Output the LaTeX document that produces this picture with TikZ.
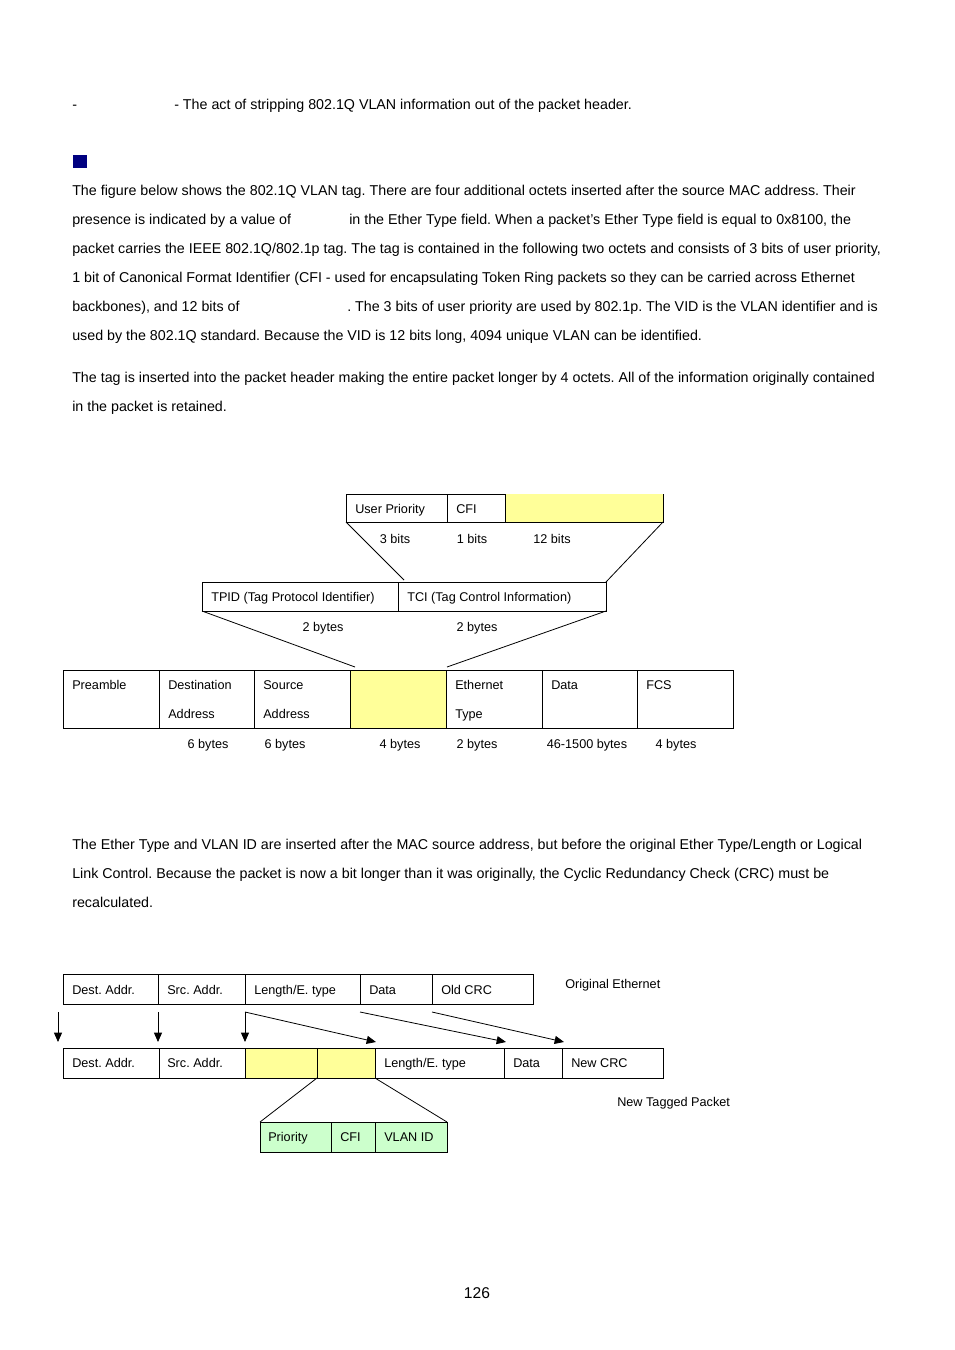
\documentclass[tikz,border=0pt]{standalone}
\usepackage{fontspec}
\setmainfont{Liberation Sans}
\usetikzlibrary{arrows.meta}
\frenchspacing
\definecolor{tagyellow}{RGB}{255,255,153}
\definecolor{taggreen}{RGB}{204,255,204}
\definecolor{navybox}{RGB}{0,0,128}
\newcommand\bodyfont{\fontsize{10.7}{12.8}\selectfont}
\newcommand\diagfont{\fontsize{9.5}{11.4}\selectfont}
\newcommand\cellbox[6]{\node[cell,fill=#6,minimum width={(#4-#2)*0.75pt},minimum height={(#5-#3)*0.75pt}] (#1) at ({(#2+#4)/2},{(#3+#5)/2}) {};}
\newcommand\dtext[4]{\node[dtxt] (#1) at (#2,{#3+5.5}) {#4};}
\newcommand\btext[4]{\node[btxt] (#1) at (#2,{#3+5.6}) {#4};}
\newcommand\ctext[4]{\node[ctxt] (#1) at (#2,{#3+5.5}) {#4};}
\tikzset{
  cell/.style={draw=black,line width=0.6pt,inner sep=0pt,outer sep=0pt},
  dtxt/.style={anchor=base west,inner sep=0pt,font=\diagfont},
  ctxt/.style={anchor=base,inner sep=0pt,font=\diagfont},
  btxt/.style={anchor=base west,inner sep=0pt,font=\bodyfont},
  conn/.style={line width=0.6pt},
  arr/.style={line width=0.6pt,-{Triangle[length=7pt,width=6pt]}}
}
\begin{document}
\begin{tikzpicture}[x=0.75pt,y=-0.75pt]
\path[use as bounding box] (0,0) rectangle (954,1350);
% header
\btext{dash}{72}{104}{-}
\btext{strip}{174}{104}{- The act of stripping 802.1Q VLAN information out of the packet header.}
\node[fill=navybox,inner sep=0pt,minimum width=10.5pt,minimum height=9.75pt,anchor=north west] (sq) at (73,155) {};
% paragraph 1
\btext{p1}{72}{190}{The figure below shows the 802.1Q VLAN tag. There are four additional octets inserted after the source MAC address. Their}
\btext{p2a}{72}{219}{presence is indicated by a value of}
\btext{p2b}{349}{219}{in the Ether Type field. When a packet's Ether Type field is equal to 0x8100, the}
\btext{p3}{72}{248}{packet carries the IEEE 802.1Q/802.1p tag. The tag is contained in the following two octets and consists of 3 bits of user priority,}
\btext{p4}{72}{277}{1 bit of Canonical Format Identifier (CFI - used for encapsulating Token Ring packets so they can be carried across Ethernet}
\btext{p5a}{72}{306}{backbones), and 12 bits of}
\btext{p5b}{347}{306}{. The 3 bits of user priority are used by 802.1p. The VID is the VLAN identifier and is}
\btext{p6}{72}{335}{used by the 802.1Q standard. Because the VID is 12 bits long, 4094 unique VLAN can be identified.}
\btext{q1}{72}{377}{The tag is inserted into the packet header making the entire packet longer by 4 octets. All of the information originally contained}
\btext{q2}{72}{406}{in the packet is retained.}
% diagram 1 top
\fill[tagyellow] (505,494) rectangle (663,522);
\cellbox{up}{346}{494}{447}{522}{white}
\cellbox{cfi}{447}{494}{505}{522}{white}
\coordinate (vidtr) at (663,494);
\coordinate (vidbr) at (663,522);
\draw[conn] (cfi.south east) -- (vidbr) -- (vidtr);
\dtext{tup}{355}{508}{User Priority}
\dtext{tcfi}{456}{508}{CFI}
\ctext{b3}{395}{538}{3 bits}
\ctext{b1}{472}{538}{1 bits}
\ctext{b12}{552}{538}{12 bits}
% diagram 1 middle
\cellbox{tpid}{202}{582}{398}{611}{white}
\cellbox{tci}{398}{582}{606}{611}{white}
\dtext{ttpid}{211}{596}{TPID (Tag Protocol Identifier)}
\dtext{ttci}{407}{596}{TCI (Tag Control Information)}
\ctext{by2a}{323}{626}{2 bytes}
\ctext{by2b}{477}{626}{2 bytes}
\coordinate (tciin) at (404,580);
\draw[conn] (up.south west) -- (tciin);
\draw[conn] (vidbr) -- (tci.north east);
% diagram 1 bottom
\cellbox{pre}{63}{670}{159}{728}{white}
\cellbox{dst}{159}{670}{254}{728}{white}
\cellbox{src}{254}{670}{350}{728}{white}
\cellbox{tag}{350}{670}{446}{728}{tagyellow}
\cellbox{eth}{446}{670}{542}{728}{white}
\cellbox{dat}{542}{670}{637}{728}{white}
\cellbox{fcs}{637}{670}{733}{728}{white}
\coordinate (tagl) at (355,667);
\coordinate (tagr) at (447,667);
\draw[conn] (tpid.south west) -- (tagl);
\draw[conn] (tci.south east) -- (tagr);
\dtext{tpre}{72}{684}{Preamble}
\dtext{tdst1}{168}{684}{Destination}
\dtext{tdst2}{168}{713}{Address}
\dtext{tsrc1}{263}{684}{Source}
\dtext{tsrc2}{263}{713}{Address}
\dtext{teth1}{455}{684}{Ethernet}
\dtext{teth2}{455}{713}{Type}
\dtext{tdat}{551}{684}{Data}
\dtext{tfcs}{646}{684}{FCS}
\ctext{s1}{208}{743}{6 bytes}
\ctext{s2}{285}{743}{6 bytes}
\ctext{s3}{400}{743}{4 bytes}
\ctext{s4}{477}{743}{2 bytes}
\ctext{s5}{587}{743}{46-1500 bytes}
\ctext{s6}{676}{743}{4 bytes}
% paragraph 2
\btext{r1}{72}{844}{The Ether Type and VLAN ID are inserted after the MAC source address, but before the original Ether Type/Length or Logical}
\btext{r2}{72}{873}{Link Control. Because the packet is now a bit longer than it was originally, the Cyclic Redundancy Check (CRC) must be}
\btext{r3}{72}{902}{recalculated.}
% diagram 2 top
\cellbox{od}{63}{974}{158}{1004}{white}
\cellbox{os}{158}{974}{245}{1004}{white}
\cellbox{ol}{245}{974}{360}{1004}{white}
\cellbox{odat}{360}{974}{432}{1004}{white}
\cellbox{ocrc}{432}{974}{533}{1004}{white}
\dtext{tod}{72}{989}{Dest. Addr.}
\dtext{tos}{167}{989}{Src. Addr.}
\dtext{tol}{254}{989}{Length/E. type}
\dtext{todat}{369}{989}{Data}
\dtext{tocrc}{441}{989}{Old CRC}
\dtext{torig}{565}{983}{Original Ethernet}
% diagram 2 bottom
\cellbox{nd}{63}{1048}{159}{1078}{white}
\cellbox{ns}{159}{1048}{245}{1078}{white}
\cellbox{ny1}{245}{1048}{317}{1078}{tagyellow}
\cellbox{ny2}{317}{1048}{375}{1078}{tagyellow}
\cellbox{nl}{375}{1048}{504}{1078}{white}
\cellbox{ndat}{504}{1048}{562}{1078}{white}
\cellbox{ncrc}{562}{1048}{663}{1078}{white}
\dtext{tnd}{72}{1062}{Dest. Addr.}
\dtext{tns}{167}{1062}{Src. Addr.}
\dtext{tnl}{384}{1062}{Length/E. type}
\dtext{tndat}{513}{1062}{Data}
\dtext{tncrc}{571}{1062}{New CRC}
\dtext{tnew}{617}{1101}{New Tagged Packet}
% arrows
\coordinate (a1s) at (58,1012); \coordinate (a1e) at (58,1042);
\coordinate (a2s) at (158,1012); \coordinate (a2e) at (158,1042);
\coordinate (a3s) at (245,1012); \coordinate (a3e) at (245,1042);
\coordinate (a4e) at (376,1042);
\coordinate (a5s) at (360,1012); \coordinate (a5e) at (506,1042);
\coordinate (a6s) at (432,1012); \coordinate (a6e) at (564,1042);
\draw[arr] (a1s) -- (a1e);
\draw[arr] (a2s) -- (a2e);
\draw[arr] (a3s) -- (a3e);
\draw[arr] (a3s) -- (a4e);
\draw[arr] (a5s) -- (a5e);
\draw[arr] (a6s) -- (a6e);
% green tag detail
\cellbox{gp}{260}{1122}{331}{1152}{taggreen}
\cellbox{gc}{331}{1122}{375}{1152}{taggreen}
\cellbox{gv}{375}{1122}{447}{1152}{taggreen}
\dtext{tgp}{268}{1136}{Priority}
\dtext{tgc}{340}{1136}{CFI}
\dtext{tgv}{384}{1136}{VLAN ID}
\draw[conn] (ny1.south east) -- (gp.north west);
\draw[conn] (ny2.south east) -- (gv.north east);
% page number
\node[anchor=base,inner sep=0pt,font=\fontsize{11.7}{14}\selectfont] (page) at (477,1298) {126};
\end{tikzpicture}
\end{document}
